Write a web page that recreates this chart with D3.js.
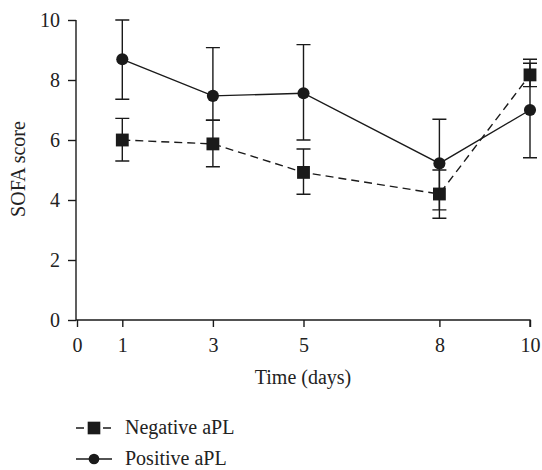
<!DOCTYPE html>
<html>
<head>
<meta charset="utf-8">
<script src="https://cdn.jsdelivr.net/npm/d3@7"></script>
<style>
  body { margin: 0; background: #fff; }
  svg text { font-family: "Liberation Serif", "DejaVu Serif", serif; fill: #222; }
</style>
</head>
<body>
<div id="chart"></div>
<script>
// chart data
var days = [1, 3, 5, 8, 10];
var negMean = [6.0, 5.87, 4.92, 4.2, 8.17];
var negLow  = [5.3, 5.11, 4.19, 3.39, 7.78];
var negHigh = [6.72, 6.66, 5.7, 5.0, 8.56];
var posMean = [8.69, 7.47, 7.56, 5.22, 7.0];
var posLow  = [7.36, 6.66, 6.0, 3.67, 5.41];
var posHigh = [10.0, 9.08, 9.18, 6.69, 8.69];
var xTicks = [0, 1, 3, 5, 8, 10];
var yTicks = [0, 2, 4, 6, 8, 10];

var width = 542, height = 470;
var ink = '#1a1a1a';
var fontSize = '20px';

var svg = d3.select('#chart').append('svg')
  .attr('width', width)
  .attr('height', height);

var xScale = d3.scaleLinear().domain([0, 10]).range([77, 530]);
var yScale = d3.scaleLinear().domain([0, 10]).range([320, 20]);

//axes
var xAxis = svg.append('g')
  .attr('transform', 'translate(0,320)')
  .call(d3.axisBottom(xScale).tickValues(xTicks).tickSize(7).tickPadding(11).tickFormat(d3.format('d')));
xAxis.select('.domain').attr('d', 'M76,0H530V7');
xAxis.selectAll('text').style('font-size', fontSize);

var yAxis = svg.append('g')
  .attr('transform', 'translate(76,0)')
  .call(d3.axisLeft(yScale).tickValues(yTicks).tickSize(8).tickPadding(8));
yAxis.select('.domain').attr('d', 'M0,20V320');
yAxis.selectAll('text').style('font-size', fontSize);

svg.selectAll('.domain, .tick line')
  .attr('stroke', ink)
  .attr('stroke-width', 1.4);

svg.append('text')
  .attr('transform', 'translate(25,169) rotate(-90)')
  .attr('text-anchor', 'middle')
  .style('font-size', fontSize)
  .text('SOFA score');

svg.append('text')
  .attr('x', 303)
  .attr('y', 384)
  .attr('text-anchor', 'middle')
  .style('font-size', fontSize)
  .text('Time (days)');

//build series rows
function rows(mean, low, high) {
  return days.map(function(d, i) {
    return { x: d, y: mean[i], lo: low[i], hi: high[i] };
  });
}
var series = [
  { key: 'neg', data: rows(negMean, negLow, negHigh), dash: '8,5', shape: 'square' },
  { key: 'pos', data: rows(posMean, posLow, posHigh), dash: null, shape: 'circle' }
];

var line = d3.line()
  .x(function(d) { return xScale(d.x); })
  .y(function(d) { return yScale(d.y); });

var capW = 7;
series.forEach(function(s) {
  var g = svg.append('g').attr('class', 'series-' + s.key);

  g.selectAll('.err')
    .data(s.data)
    .enter().append('path')
    .attr('class', 'err')
    .attr('fill', 'none')
    .attr('stroke', ink)
    .attr('stroke-width', 1.4)
    .attr('d', function(d) {
      var x = xScale(d.x), y0 = yScale(d.lo), y1 = yScale(d.hi);
      return 'M' + x + ',' + y0 + 'V' + y1 +
        'M' + (x - capW) + ',' + y1 + 'H' + (x + capW) +
        'M' + (x - capW) + ',' + y0 + 'H' + (x + capW);
    });

  g.append('path')
    .datum(s.data)
    .attr('fill', 'none')
    .attr('stroke', ink)
    .attr('stroke-width', 1.4)
    .attr('stroke-dasharray', s.dash)
    .attr('d', line);
});

//markers on top
series.forEach(function(s) {
  var g = svg.select('.series-' + s.key);
  var sym = d3.symbol()
    .type(s.shape == 'square' ? d3.symbolSquare : d3.symbolCircle)
    .size(s.shape == 'square' ? 165 : 115);
  g.selectAll('.mark')
    .data(s.data)
    .enter().append('path')
    .attr('class', 'mark')
    .attr('transform', function(d) { return 'translate(' + xScale(d.x) + ',' + yScale(d.y) + ')'; })
    .attr('d', sym)
    .attr('fill', ink);
});

//legend
var legend = svg.append('g').attr('transform', 'translate(76,428)');
var items = [
  { label: 'Negative aPL', shape: 'square' },
  { label: 'Positive aPL', shape: 'circle' }
];
var li = legend.selectAll('.item')
  .data(items)
  .enter().append('g')
  .attr('class', 'item')
  .attr('transform', function(d, i) { return 'translate(0,' + (i * 31) + ')'; });

li.append('path')
  .attr('stroke', ink)
  .attr('stroke-width', 1.4)
  .attr('d', function(d) {
    return d.shape == 'square' ? 'M0,0H8M27,0H35' : 'M0,0H36';
  });
li.append('path')
  .attr('transform', 'translate(18,0)')
  .attr('d', function(d) {
    return d3.symbol().type(d.shape == 'square' ? d3.symbolSquare : d3.symbolCircle)
      .size(d.shape == 'square' ? 160 : 90)();
  })
  .attr('fill', ink);
li.append('text')
  .attr('x', 49)
  .attr('dy', '0.32em')
  .style('font-size', fontSize)
  .text(function(d) { return d.label; });
</script>
</body>
</html>
